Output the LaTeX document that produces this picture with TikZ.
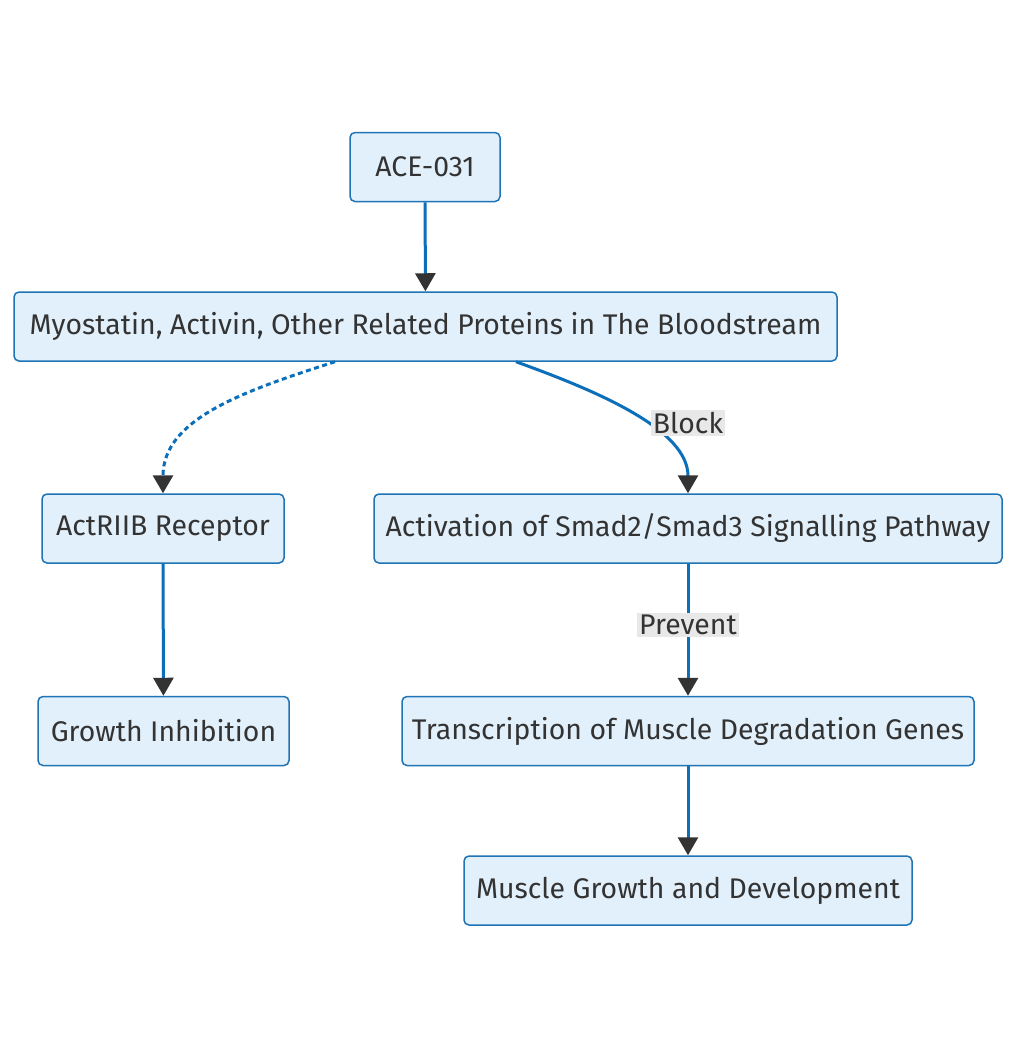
\documentclass[tikz,border=0pt]{standalone}
\usepackage{fontspec}
\setmainfont{Fira Sans}
\usetikzlibrary{arrows.meta}

\definecolor{boxfill}{HTML}{E2F0FB}
\definecolor{boxline}{HTML}{1F74B5}
\definecolor{flowline}{HTML}{0B6FBA}
\definecolor{tipgray}{HTML}{333333}
\definecolor{lblgray}{HTML}{E8E8E8}

\tikzset{
  box/.style={draw=boxline,fill=boxfill,line width=1.5pt,rounded corners=5pt,
    minimum height=69pt,inner xsep=0pt,text=tipgray,font=\fontsize{28.4}{32}\selectfont},
  flow/.style={draw=flowline,line width=3pt,
    -{Triangle[length=18pt,width=20pt,color=tipgray]}},
  lbl/.style={fill=lblgray,text=tipgray,inner sep=2pt,font=\fontsize{28.4}{32}\selectfont},
}

\begin{document}
\begin{tikzpicture}[x=1pt,y=1pt]
\useasboundingbox[fill=white] (0,0) rectangle (1017,-1058);

\node[box,minimum width=150pt] (ace) at (425,-167) {ACE-031};
\node[box,minimum width=823pt] (myo) at (425.5,-326.5) {Myostatin, Activin, Other Related Proteins in The Bloodstream};
\node[box,minimum width=242pt] (rec) at (163,-528.5) {ActRIIB Receptor};
\node[box,minimum width=628pt] (smad) at (688,-528.5) {Activation of Smad2/Smad3 Signalling Pathway};
\node[box,minimum width=251pt] (inhib) at (163.5,-731) {Growth Inhibition};
\node[box,minimum width=572pt] (genes) at (688,-731) {Transcription of Muscle Degradation Genes};
\node[box,minimum width=448pt] (grow) at (688,-890.5) {Muscle Growth and Development};

% edges
\draw[flow] (ace) -- (myo);
\draw[flow,dash pattern=on 5pt off 3.5pt] ([xshift=-90.5pt]myo.south)
  .. controls (240,-392) and (163,-420) .. (rec.north);
\draw[flow] ([xshift=90.5pt]myo.south)
  .. controls (600,-392) and (688,-430) .. (smad.north);
\draw[flow] (rec) -- (inhib);
\draw[flow] (smad) -- (genes);
\draw[flow] (genes) -- (grow);

\node[lbl] (block) at (688,-423) {Block};
\node[lbl] (prevent) at (688,-625) {Prevent};
\end{tikzpicture}
\end{document}
